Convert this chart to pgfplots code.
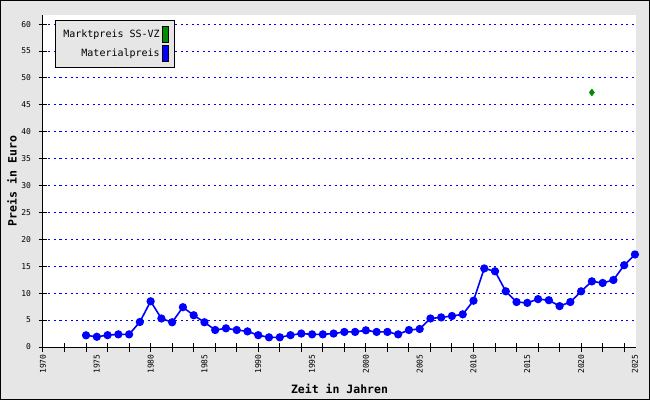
\documentclass[border=0pt]{standalone}
\usepackage{fontspec}
\setmonofont{DejaVu Sans Mono}
\usepackage{pgfplots}
\pgfplotsset{compat=1.18}
\definecolor{bg}{RGB}{230,230,230}
\definecolor{mblue}{RGB}{0,0,255}
\definecolor{mgreen}{RGB}{0,140,0}
\begin{document}
\begin{tikzpicture}[x=1pt,y=1pt]
\fill[bg] (0,0) rectangle (650,400);
\draw[black,line width=1pt] (0.5,0.5) rectangle (649.5,399.5);
\begin{axis}[
  at={(43pt,53pt)}, anchor=south west,
  scale only axis, width=593pt, height=332pt,
  xmin=1970, xmax=2025.1, ymin=0, ymax=61.7,
  axis lines=left, axis line style={-, line width=1pt, black},
  axis background/.style={fill=white},
  tick align=center, major tick length=9pt,
  tick style={black, line width=1pt},
  /pgf/number format/assume math mode=true,
  /pgf/number format/set thousands separator={},
  tick label style={font=\ttfamily\fontsize{8}{9}\selectfont},
  xtick={1970,1972,...,2024}, xticklabels={},
  extra x ticks={1970,1975,...,2025},
  extra x tick labels={1970,1975,1980,1985,1990,1995,2000,2005,2010,2015,2020,2025},
  extra x tick style={major tick length=0pt, tick style={draw=none}},
  xticklabel style={rotate=90, anchor=east},
  xticklabel shift=4pt,
  yticklabel shift=4pt,
  ytick={0,5,...,60},
  ymajorgrids,
  grid style={mblue, dash pattern=on 2pt off 3.5pt, line width=1pt},
  clip=false,
  every axis x label/.style={at={(axis description cs:0.5,0)}, yshift=-42pt, anchor=center},
  every axis y label/.style={at={(axis description cs:0,0.5)}, xshift=-31pt, rotate=90, anchor=center},
  xlabel={\ttfamily\bfseries\fontsize{11.5}{12}\selectfont Zeit in Jahren},
  ylabel={\ttfamily\bfseries\fontsize{11.5}{12}\selectfont Preis in Euro},
  legend plot pos=right,
  legend cell align=right,
  legend style={at={(0.0202,0.985)}, anchor=north west, draw=black, line width=0.8pt, fill=bg,
    font=\ttfamily\fontsize{10}{12}\selectfont, row sep=2pt, inner xsep=6pt, inner ysep=6pt},
]
\addplot[only marks, mark=diamond*, mark size=3.5pt, color=mgreen,
  legend image code/.code={\draw[draw=black, fill=mgreen, line width=0.6pt] (2pt,-8pt) rectangle (8pt,8pt);}]
  coordinates {(2021,47.3)};
\addlegendentry{Marktpreis SS-VZ}
\addplot[mblue, line width=1.6pt, mark=*, mark size=3.3pt,
  legend image code/.code={\draw[draw=black, fill=mblue, line width=0.6pt] (2pt,-8pt) rectangle (8pt,8pt);}]
  coordinates {
  (1974,2.17) (1975,1.9) (1976,2.2) (1977,2.35) (1978,2.35) (1979,4.65)
  (1980,8.5) (1981,5.3) (1982,4.6) (1983,7.4) (1984,5.9) (1985,4.6)
  (1986,3.16) (1987,3.47) (1988,3.16) (1989,2.9) (1990,2.2) (1991,1.8)
  (1992,1.8) (1993,2.2) (1994,2.5) (1995,2.35) (1996,2.35) (1997,2.5)
  (1998,2.8) (1999,2.8) (2000,3.1) (2001,2.8) (2002,2.8) (2003,2.35)
  (2004,3.16) (2005,3.35) (2006,5.3) (2007,5.5) (2008,5.76) (2009,6.07)
  (2010,8.6) (2011,14.6) (2012,14.07) (2013,10.35) (2014,8.36) (2015,8.2)
  (2016,8.9) (2017,8.7) (2018,7.6) (2019,8.36) (2020,10.35) (2021,12.2)
  (2022,11.9) (2023,12.45) (2024,15.2) (2025,17.2)
  };
\addlegendentry{Materialpreis}
\end{axis}
\end{tikzpicture}
\end{document}
